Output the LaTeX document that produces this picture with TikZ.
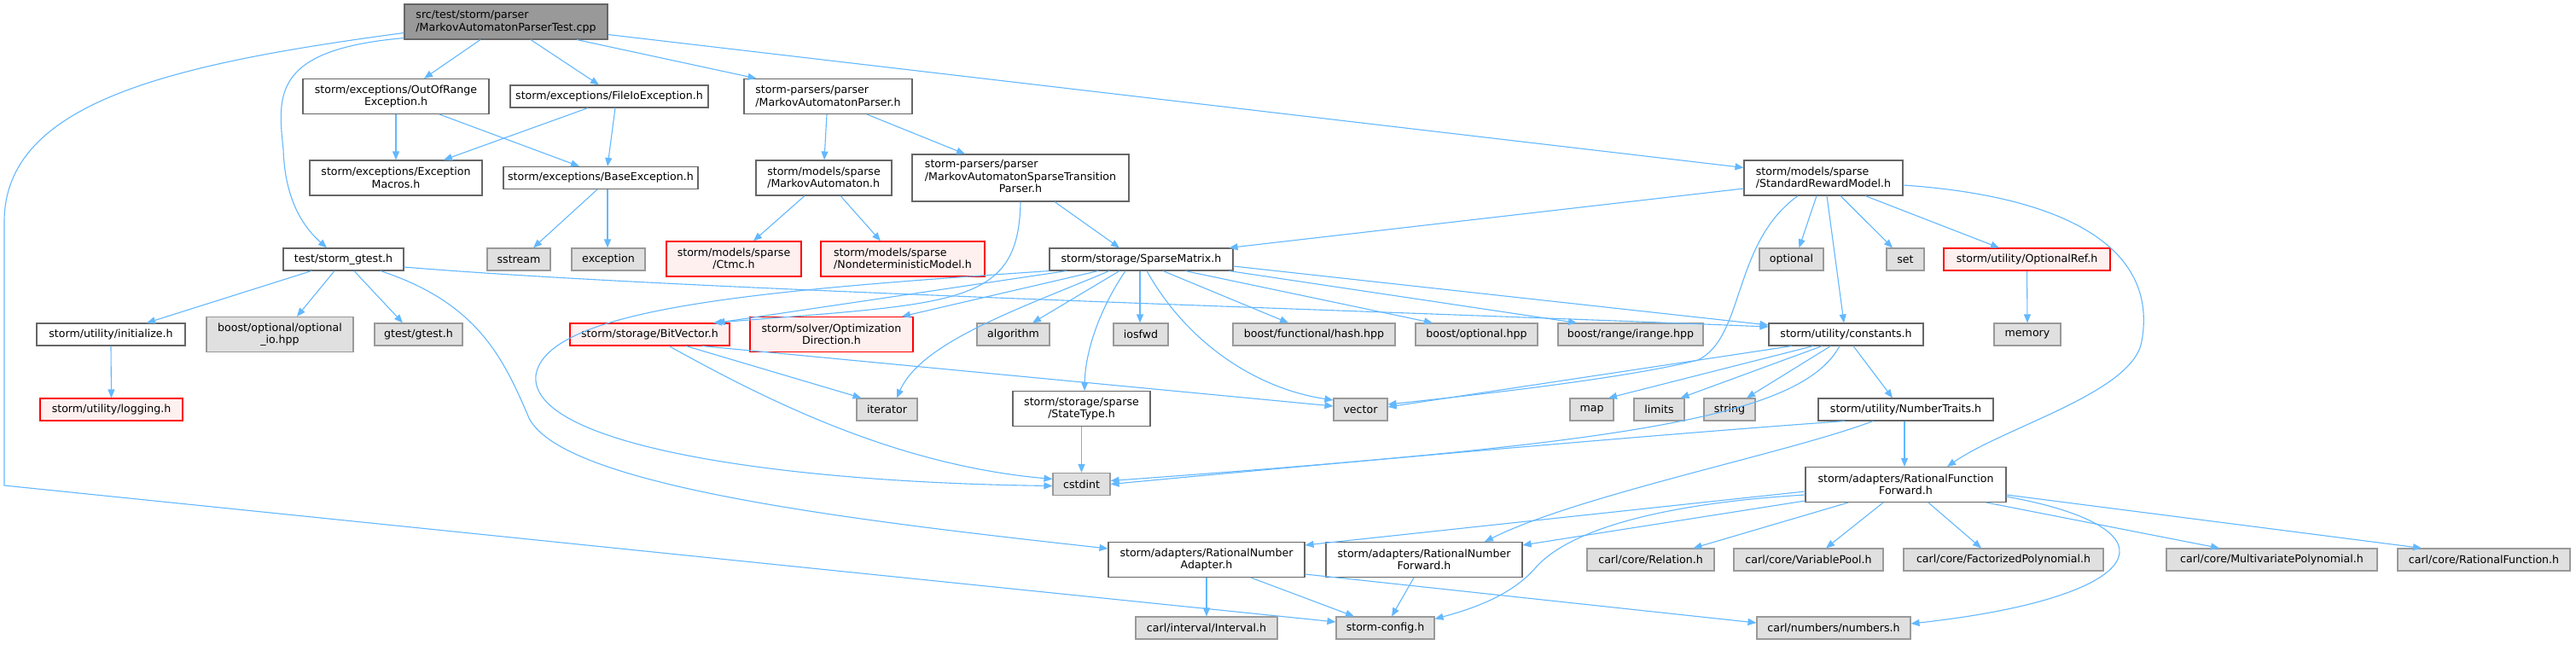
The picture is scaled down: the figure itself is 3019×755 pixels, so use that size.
\documentclass[tikz,border=0pt]{standalone}
\usepackage{fontspec}
\setmainfont{DejaVu Sans}
\usetikzlibrary{arrows.meta}
\definecolor{edgeblue}{RGB}{99,184,255}
\definecolor{nodegray}{RGB}{102,102,102}
\definecolor{sysgray}{RGB}{153,153,153}
\definecolor{sysfill}{RGB}{224,224,224}
\definecolor{rootgray}{RGB}{153,153,153}
\definecolor{truncfill}{RGB}{255,240,240}
\newcommand{\graphfont}{\fontsize{12.6}{14.5}\selectfont}

\begin{document}
\begin{tikzpicture}[x=1pt, y=-1pt,
  file/.style={rectangle, draw=nodegray, fill=white, line width=1.1pt, minimum width=#1,
               minimum height=26pt, inner sep=0pt, align=center, font=\graphfont},
  rootfile/.style={file=#1, fill=rootgray},
  sys/.style={file=#1, draw=sysgray, fill=sysfill},
  trunc/.style={file=#1, draw=red, fill=truncfill},
  twoline/.style={minimum height=41pt},
  threeline/.style={minimum height=55pt},
  dep/.style={draw=edgeblue, line width=1.1pt, -{Triangle[length=10pt,width=8pt]}}
]
\fill[white] (0,0) rectangle (3019,755);

% Row 0: the test file
\node[rootfile=238pt, twoline, align=left] (root) at (593,25.5) {src/test/storm/parser\\/MarkovAutomatonParserTest.cpp};

% Row 1
\node[file=218pt, twoline] (oorexc) at (464,113) {storm/exceptions/OutOfRange\\Exception.h};
\node[file=232pt] (fileioexc) at (714,113) {storm/exceptions/FileIoException.h};
\node[file=197pt, twoline, align=left] (maparser) at (970.5,113) {storm-parsers/parser\\/MarkovAutomatonParser.h};

% Row 2
\node[file=202pt, twoline] (excmacros) at (464,208.5) {storm/exceptions/Exception\\Macros.h};
\node[file=228pt] (baseexc) at (704,208.5) {storm/exceptions/BaseException.h};
\node[file=159pt, twoline, align=left] (mamodel) at (965.5,208.5) {storm/models/sparse\\/MarkovAutomaton.h};
\node[file=254pt, threeline] (mastparser) at (1196,208.5)
  {\begin{tabular}{@{}l@{}}storm-parsers/parser\\/MarkovAutomatonSparseTransition\\\multicolumn{1}{@{}c@{}}{Parser.h}\end{tabular}};
\node[file=186pt, twoline, align=left] (rewardmodel) at (2137,208.5) {storm/models/sparse\\/StandardRewardModel.h};

% Row 3
\node[file=141pt] (gtesthdr) at (402.5,304) {test/storm\_gtest.h};
\node[sys=74pt] (sstream) at (608,304) {sstream};
\node[sys=86pt] (exception) at (713,304) {exception};
\node[trunc=158pt, twoline] (ctmc) at (860,303.5) {storm/models/sparse\\/Ctmc.h};
\node[trunc=192pt, twoline, align=left] (ndmodel) at (1058,303.5) {storm/models/sparse\\/NondeterministicModel.h};
\node[file=215pt] (sparsematrix) at (1337.5,304) {storm/storage/SparseMatrix.h};
\node[sys=75pt] (optional) at (2099.5,304) {optional};
\node[sys=44pt] (stdset) at (2233,304) {set};
\node[trunc=195pt] (optref) at (2375.5,304) {storm/utility/OptionalRef.h};

% Row 4
\node[file=174pt] (initialize) at (130,392) {storm/utility/initialize.h};
\node[sys=172pt, twoline] (optionalio) at (328,392) {boost/optional/optional\\\_io.hpp};
\node[sys=103pt] (gtest) at (490.5,392) {gtest/gtest.h};
\node[trunc=187pt] (bitvector) at (761.5,392) {storm/storage/BitVector.h};
\node[trunc=191pt, twoline] (optdir) at (974.5,392) {storm/solver/Optimization\\Direction.h};
\node[sys=85pt] (algorithm) at (1187.5,392) {algorithm};
\node[sys=64pt] (iosfwd) at (1337,392) {iosfwd};
\node[sys=190pt] (hashhpp) at (1540,392) {boost/functional/hash.hpp};
\node[sys=143pt] (boostopt) at (1730.5,392) {boost/optional.hpp};
\node[sys=170pt] (irange) at (1911,392) {boost/range/irange.hpp};
\node[file=181pt] (constants) at (2163.5,392) {storm/utility/constants.h};
\node[sys=78pt] (memory) at (2376,392) {memory};

% Row 5
\node[trunc=167pt] (logging) at (130.5,480) {storm/utility/logging.h};
\node[sys=71pt] (iterator) at (1039.5,480) {iterator};
\node[file=161pt, twoline] (statetype) at (1267.5,479) {storm/storage/sparse\\/StateType.h};
\node[sys=63pt] (vector) at (1594.5,480) {vector};
\node[sys=51pt] (map) at (1865.5,480) {map};
\node[sys=59pt] (limits) at (1944.5,480) {limits};
\node[sys=60pt] (string) at (2027,480) {string};
\node[file=205pt] (numtraits) at (2233.5,480) {storm/utility/NumberTraits.h};

% Row 6
\node[sys=67pt] (cstdint) at (1267.5,567.5) {cstdint};
\node[file=235pt, twoline] (rfforward) at (2233.5,568) {storm/adapters/RationalFunction\\Forward.h};

% Row 7
\node[file=230pt, twoline] (rnadapter) at (1414,656) {storm/adapters/RationalNumber\\Adapter.h};
\node[file=230pt, twoline] (rnforward) at (1669,656) {storm/adapters/RationalNumber\\Forward.h};
\node[sys=149pt] (relation) at (1934.5,656) {carl/core/Relation.h};
\node[sys=175pt] (varpool) at (2119.5,656) {carl/core/VariablePool.h};
\node[sys=234pt] (factpoly) at (2348,656) {carl/core/FactorizedPolynomial.h};
\node[sys=247pt] (multipoly) at (2662.5,656) {carl/core/MultivariatePolynomial.h};
\node[sys=202pt] (ratfunc) at (2911,656) {carl/core/RationalFunction.h};

% Row 8
\node[sys=166pt] (interval) at (1414,736) {carl/interval/Interval.h};
\node[sys=115pt] (stormconfig) at (1623.5,736) {storm-config.h};
\node[sys=180pt] (numbers) at (2149,736) {carl/numbers/numbers.h};

% from the test file
\draw[dep] ([yshift=-13pt]root.west) .. controls (200,75) and (5,120) .. (5,260) -- (5,569) -- ([yshift=7pt]stormconfig.west);
\draw[dep] ([yshift=2pt]root.south west) .. controls (320,58) and (325,110) .. (332,175)
  .. controls (334,240) and (360,270) .. ([xshift=-19.5pt]gtesthdr.north);
\draw[dep] ([xshift=-30pt]root.south) -- ([xshift=33pt]oorexc.north);
\draw[dep] ([xshift=29pt]root.south) -- ([xshift=-12pt]fileioexc.north);
\draw[dep] ([xshift=83pt]root.south) -- ([xshift=-84pt]maparser.north);
\draw[dep] ([yshift=-15pt]root.east) -- ([yshift=12pt]rewardmodel.west);

% exceptions
\draw[dep] (oorexc.south) -- (excmacros.north);
\draw[dep] ([xshift=51pt]oorexc.south) -- ([xshift=-25pt]baseexc.north);
\draw[dep] ([xshift=-25pt]fileioexc.south) -- ([xshift=56pt]excmacros.north);
\draw[dep] ([xshift=7pt]fileioexc.south) -- ([xshift=8pt]baseexc.north);
\draw[dep] ([xshift=-4pt]baseexc.south) -- ([xshift=17pt]sstream.north);
\draw[dep] ([xshift=8pt]baseexc.south) -- ([xshift=-1pt]exception.north);

% parsers
\draw[dep] ([xshift=-1.5pt]maparser.south) -- ([xshift=0.5pt]mamodel.north);
\draw[dep] ([xshift=45.5pt]maparser.south) -- ([xshift=-65pt]mastparser.north);
\draw[dep] ([xshift=-22.5pt]mamodel.south) -- ([xshift=23pt]ctmc.north);
\draw[dep] ([xshift=19.5pt]mamodel.south) -- ([xshift=-26pt]ndmodel.north);
\draw[dep] ([xshift=40pt]mastparser.south) -- ([xshift=-25.5pt]sparsematrix.north);
\draw[dep] (mastparser.south) .. controls (1194,360) and (1120,355) .. ([xshift=74.5pt]bitvector.north);

% gtest header
\draw[dep] ([xshift=-37.5pt]gtesthdr.south) -- ([xshift=42pt]initialize.north);
\draw[dep] ([xshift=-10.5pt]gtesthdr.south) -- ([xshift=20pt]optionalio.north);
\draw[dep] ([xshift=12.5pt]gtesthdr.south) -- ([xshift=-18.5pt]gtest.north);
\draw[dep] ([yshift=-9pt]gtesthdr.east) .. controls (800,340) and (1500,360) .. ([yshift=9pt]constants.west);
\draw[dep] ([xshift=43.5pt]gtesthdr.south) .. controls (560,355) and (590,420) .. (620,490)
  .. controls (660,570) and (1000,610) .. ([yshift=13pt]rnadapter.west);
\draw[dep] (initialize.south) -- (logging.north);

% sparse matrix
\draw[dep] ([xshift=-87.5pt]sparsematrix.south) -- ([xshift=78pt]bitvector.north);
\draw[dep] (sparsematrix.south west) .. controls (900,340) and (640,360) .. (628,440)
  .. controls (620,520) and (900,565) .. ([yshift=-2pt]cstdint.west);
\draw[dep] ([xshift=-50.5pt]sparsematrix.south) -- ([xshift=82.5pt]optdir.north);
\draw[dep] ([xshift=-37.5pt]sparsematrix.south) .. controls (1200,360) and (1080,400) .. ([xshift=11.5pt]iterator.north);
\draw[dep] ([xshift=-25.5pt]sparsematrix.south) -- ([xshift=22.5pt]algorithm.north);
\draw[dep] ([xshift=-1.5pt]sparsematrix.south) -- ([xshift=-1pt]iosfwd.north);
\draw[dep] ([xshift=-18.5pt]sparsematrix.south) .. controls (1290,360) and (1272,410) .. ([xshift=3.5pt]statetype.north);
\draw[dep] ([xshift=6.5pt]sparsematrix.south) .. controls (1390,400) and (1470,455) .. ([yshift=11pt]vector.west);
\draw[dep] ([xshift=25.5pt]sparsematrix.south) -- ([xshift=-30pt]hashhpp.north);
\draw[dep] ([xshift=51.5pt]sparsematrix.south) -- ([xshift=-51.5pt]boostopt.north);
\draw[dep] ([xshift=-5pt]sparsematrix.south east) -- ([xshift=-63pt]irange.north);
\draw[dep] ([yshift=-8pt]sparsematrix.east) -- ([yshift=11pt]constants.west);

% bit vector, state type
\draw[dep] ([xshift=22.5pt]bitvector.south) .. controls (900,470) and (1050,545) .. ([yshift=6pt]cstdint.west);
\draw[dep] ([xshift=42.5pt]bitvector.south) -- ([xshift=-30pt]iterator.north);
\draw[dep] ([xshift=61.5pt]bitvector.south) -- ([yshift=4pt]vector.west);
\draw[dep] (statetype.south) -- (cstdint.north);

% reward model
\draw[dep] ([yshift=-12.5pt]rewardmodel.west) -- ([xshift=-5pt]sparsematrix.north east);
\draw[dep] ([xshift=-30pt]rewardmodel.south) .. controls (2030,285) and (2045,395) .. (1990,422)
  .. controls (1900,445) and (1700,466) .. ([yshift=6pt]vector.east);
\draw[dep] ([xshift=-8pt]rewardmodel.south) -- ([xshift=9pt]optional.north);
\draw[dep] ([xshift=4pt]rewardmodel.south) -- ([xshift=-2.5pt]constants.north);
\draw[dep] ([xshift=20pt]rewardmodel.south) -- ([xshift=-15pt]stdset.north);
\draw[dep] ([xshift=49pt]rewardmodel.south) -- ([xshift=-32.5pt]optref.north);
\draw[dep] ([yshift=-8.5pt]rewardmodel.east) .. controls (2420,230) and (2530,290) .. (2510,400)
  .. controls (2500,460) and (2350,500) .. ([xshift=48.5pt]rfforward.north);
\draw[dep] (optref.south) -- (memory.north);

% constants
\draw[dep] ([xshift=-63.5pt]constants.south) -- ([yshift=3pt]vector.east);
\draw[dep] ([xshift=-38.5pt]constants.south) -- ([xshift=19.5pt]map.north);
\draw[dep] ([xshift=-28pt]constants.south) -- ([xshift=25pt]limits.north);
\draw[dep] ([xshift=-18pt]constants.south) -- ([xshift=20pt]string.north);
\draw[dep] ([xshift=-7.5pt]constants.south) .. controls (2110,490) and (1900,520) .. ([yshift=4pt]cstdint.east);
\draw[dep] ([xshift=8.5pt]constants.south) -- ([xshift=-15.5pt]numtraits.north);

% number traits
\draw[dep] ([xshift=-71.5pt]numtraits.south) .. controls (2000,505) and (1700,530) .. (cstdint.east);
\draw[dep] ([xshift=-38.5pt]numtraits.south) .. controls (2100,530) and (1850,580) .. ([xshift=71pt]rnforward.north);
\draw[dep] ([xshift=-1.5pt]numtraits.south) -- ([xshift=-1.5pt]rfforward.north);

% rational function forward
\draw[dep] ([yshift=-8pt]rfforward.west) -- ([yshift=-4pt]rnadapter.north east);
\draw[dep] ([yshift=-12pt]rfforward.west) .. controls (1950,590) and (1840,620) .. (1800,665)
  .. controls (1770,700) and (1720,715) .. ([yshift=-3pt]stormconfig.north east);
\draw[dep] ([yshift=-19pt]rfforward.west) -- ([yshift=-4pt]rnforward.north east);
\draw[dep] ([xshift=-67.5pt]rfforward.south) -- ([xshift=-25pt]relation.north east);
\draw[dep] ([xshift=-26.5pt]rfforward.south) -- ([xshift=20.5pt]varpool.north);
\draw[dep] ([xshift=26.5pt]rfforward.south) -- ([xshift=-26pt]factpoly.north);
\draw[dep] ([xshift=94.5pt]rfforward.south) -- ([xshift=-61.5pt]multipoly.north);
\draw[dep] ([yshift=-12pt]rfforward.east) -- ([xshift=-73pt]ratfunc.north);
\draw[dep] ([yshift=-14pt]rfforward.east) .. controls (2560,620) and (2520,700) .. ([yshift=5pt]numbers.east);

% rational numbers
\draw[dep] (rnadapter.south) -- (interval.north);
\draw[dep] ([xshift=52pt]rnadapter.south) -- ([xshift=-36.5pt]stormconfig.north);
\draw[dep] ([yshift=-17pt]rnadapter.east) -- ([yshift=6pt]numbers.west);
\draw[dep] ([xshift=-12pt]rnforward.south) -- ([xshift=7.5pt]stormconfig.north);
\end{tikzpicture}
\end{document}
